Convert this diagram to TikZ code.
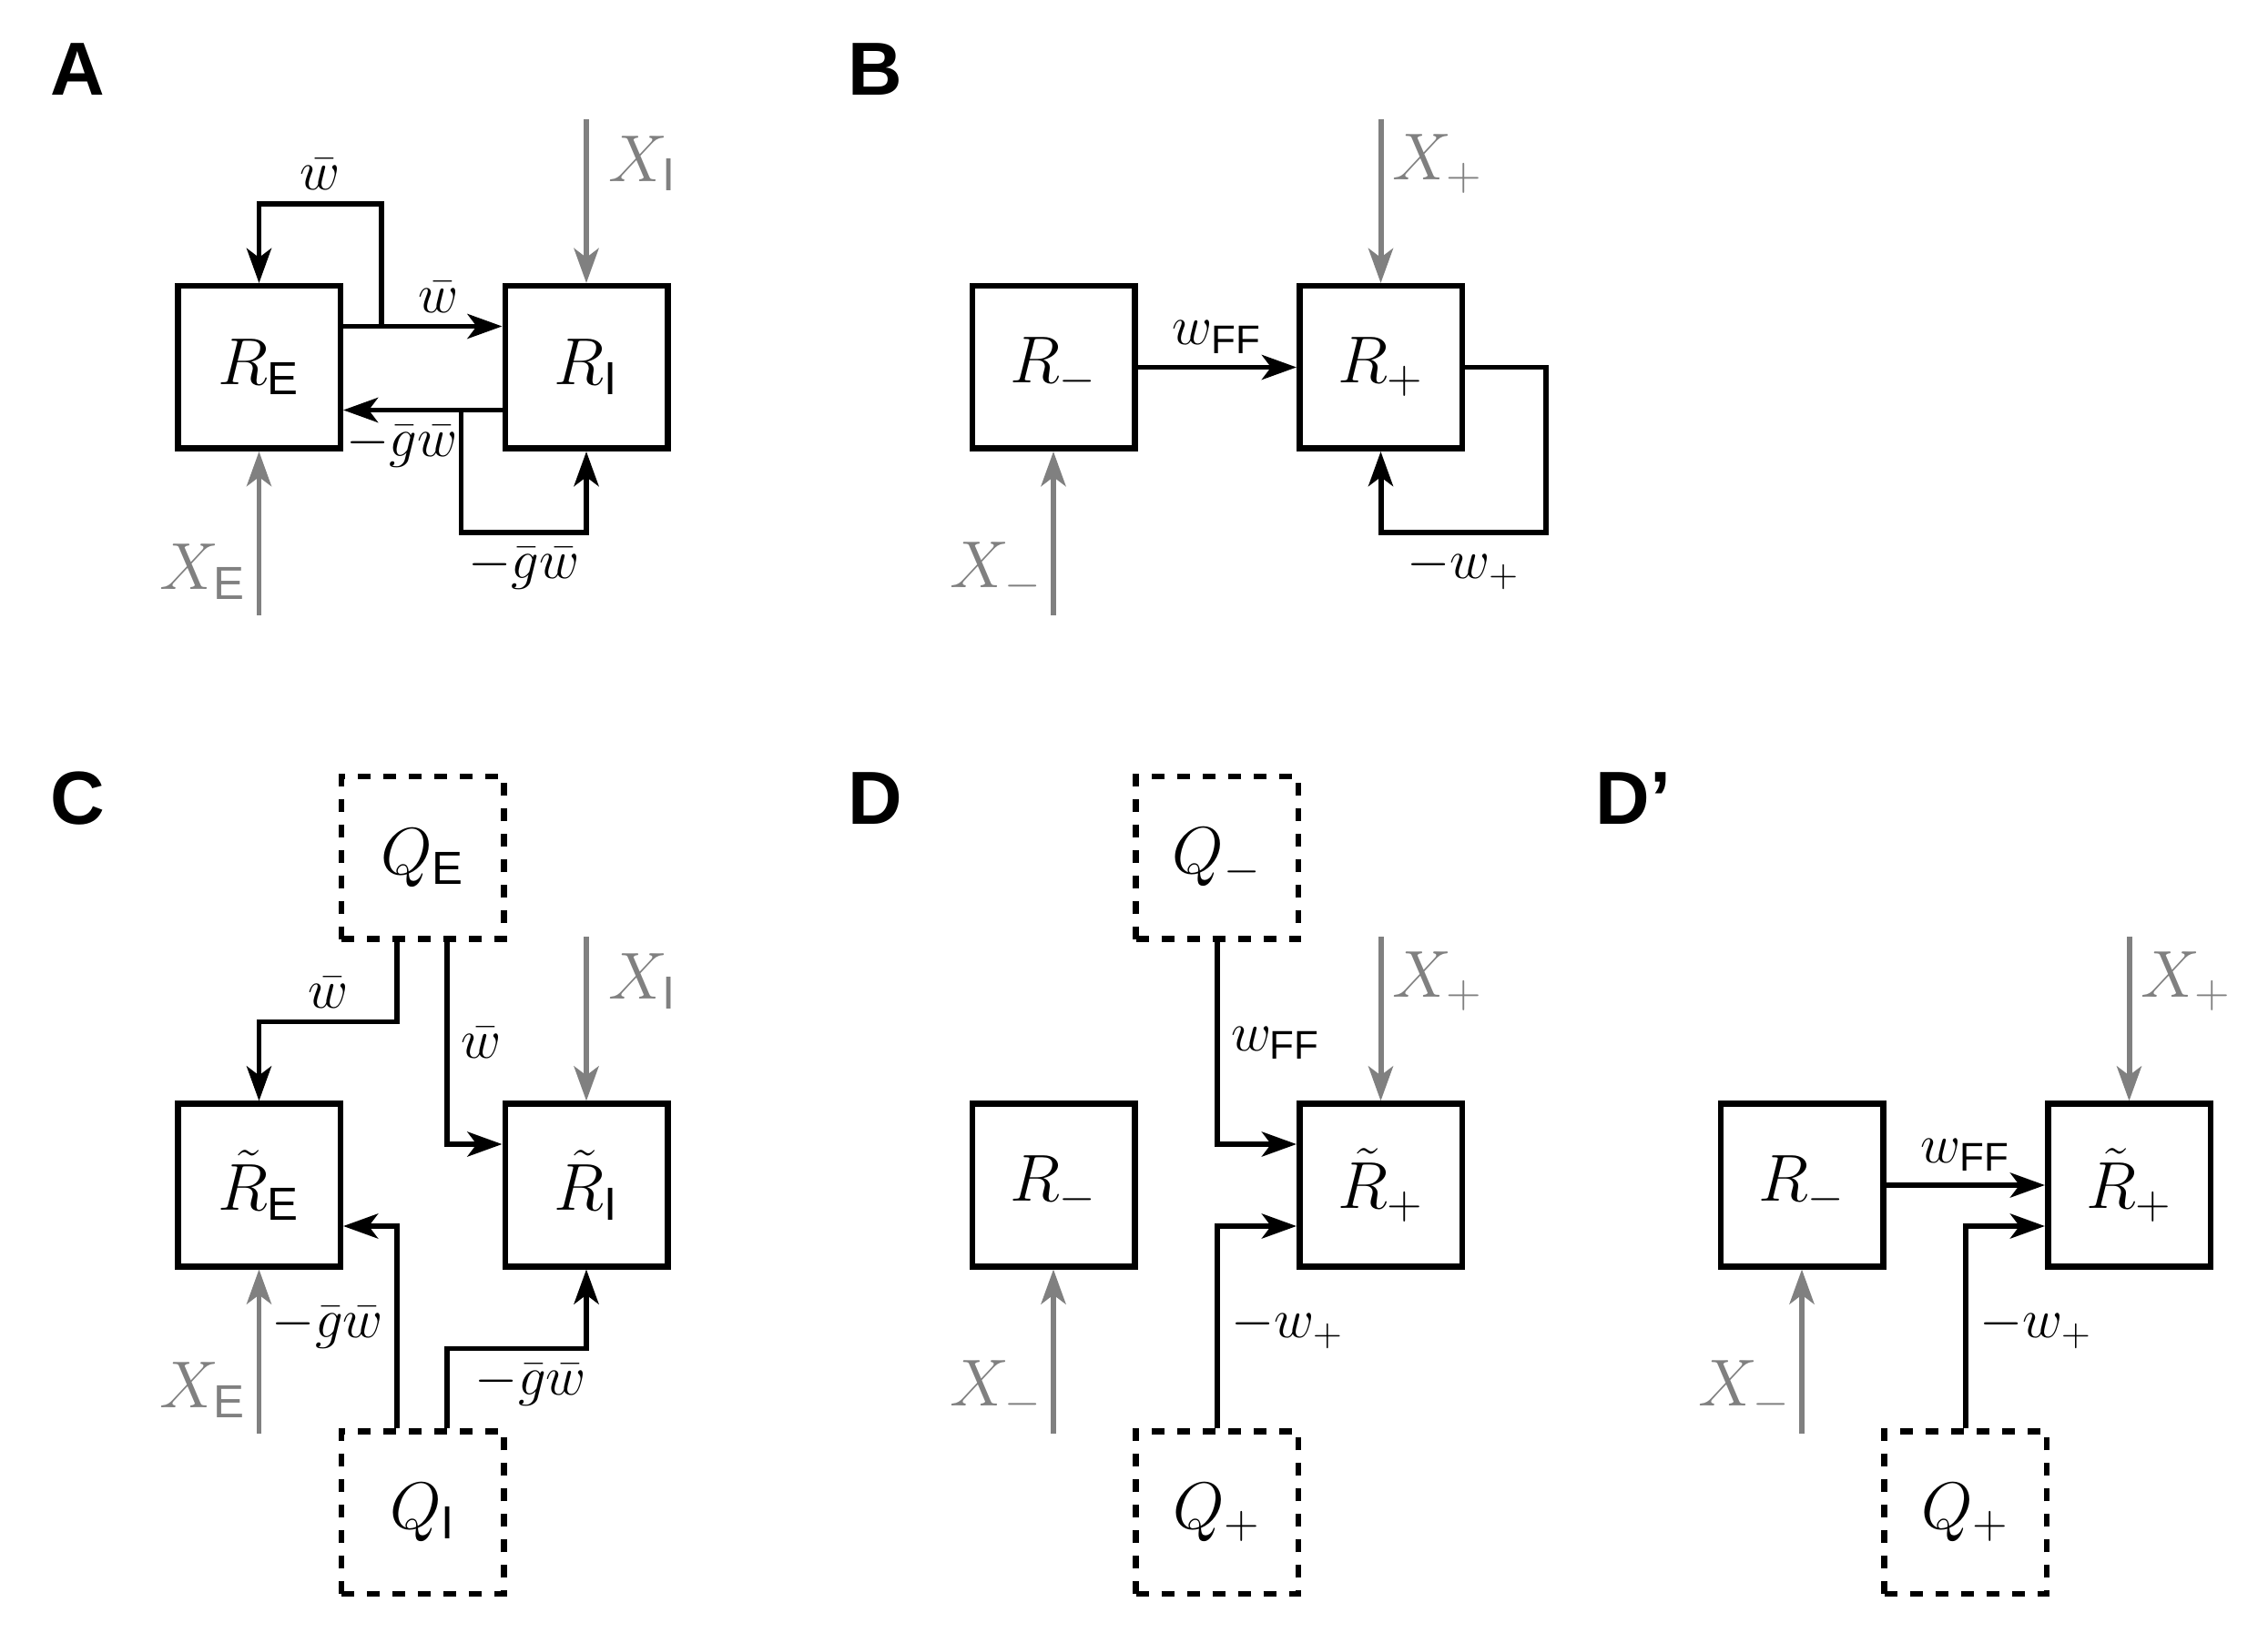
\documentclass[tikz,border=0pt]{standalone}
\usepackage{amsmath}
\usepackage{fontspec}
\setsansfont{Liberation Sans}
\usetikzlibrary{arrows.meta, positioning, calc}
\DeclareMathSizes{19.5}{19.5}{14.5}{11}
\DeclareMathSizes{17}{17}{12.5}{9}

\begin{document}
\begin{tikzpicture}[x=1mm, y=1mm, node distance=17.45mm,
  >={Stealth[length=3.8mm, width=2.7mm, inset=1mm]},
  every node/.style={font=\fontsize{19.5}{23}\selectfont},
  box/.style={draw, rectangle, line width=1.85pt, minimum size=17.85mm, inner sep=0pt},
  qbox/.style={box, dash pattern=on 1.4mm off 1.4mm},
  conn/.style={->, line width=1.7pt},
  ext/.style={->, line width=1.7pt, draw=gray},
  elab/.style={font=\fontsize{17}{20}\selectfont, inner sep=3.5pt},
  xlab/.style={text=gray, inner sep=0pt},
  panel/.style={font=\sffamily\bfseries\fontsize{23.5}{28}\selectfont, inner sep=0pt, anchor=west}]
  \useasboundingbox (0,0) rectangle (249.1,-179.4);

  % A
  \node[panel] (labA) at (5.5,-7.6) {A};
  \node[box] (re) at (28.45,-40.35) {$R_{\mathsf{E}}$};
  \node[box, right=of re] (ri) {$R_{\mathsf{I}}$};
  \coordinate (xi_a) at ([yshift=18mm]ri.north);
  \coordinate (xe_a) at ([yshift=-18mm]re.south);

  \draw[conn] ([yshift=4.5mm]re.east) -- node[elab, above, pos=.6] (wa1) {$\bar{w}$} ([yshift=4.5mm]ri.west);
  \draw[conn] ([xshift=4.2mm, yshift=4.5mm]re.east) |- node[elab, above, pos=.75] (wa2) {$\bar{w}$} ([yshift=8.7mm]re.north) -- (re.north);
  \draw[conn] ([yshift=-4.7mm]ri.west) -- node[elab, below, pos=.63] (ga1) {$-\bar{g}\bar{w}$} ([yshift=-4.7mm]re.east);
  \draw[conn] ([xshift=-4.5mm, yshift=-4.7mm]ri.west) |- node[elab, below, pos=.75] (ga2) {$-\bar{g}\bar{w}$} ([yshift=-8.9mm]ri.south) -- (ri.south);
  \draw[ext] (xi_a) -- node[xlab, xshift=6.2mm, pos=.27] (lxia) {$X_{\mathsf{I}}$} (ri.north);
  \draw[ext] (xe_a) -- node[xlab, xshift=-6.2mm, pos=.265] (lxea) {$X_{\mathsf{E}}$} (re.south);

  % B
  \node[panel] (labB) at (93.1,-7.6) {B};
  \node[box] (rm) at (115.7,-40.35) {$R_{-}$};
  \node[box, right=of rm] (rp) {$R_{+}$};
  \coordinate (xp_b) at ([yshift=18mm]rp.north);
  \coordinate (xm_b) at ([yshift=-18mm]rm.south);

  \draw[conn] (rm.east) -- node[elab, above] (wffb) {$w_{\mathsf{FF}}$} (rp.west);
  \draw[conn] (rp.east) -| ([xshift=8.9mm, yshift=-8.9mm]rp.south east) -| node[elab, below, pos=.25] (wpb) {$-w_{+}$} (rp.south);
  \draw[ext] (xp_b) -- node[xlab, xshift=6.3mm, pos=.27] (lxpb) {$X_{+}$} (rp.north);
  \draw[ext] (xm_b) -- node[xlab, xshift=-6.3mm, pos=.265] (lxmb) {$X_{-}$} (rm.south);

  % C
  \node[panel] (labC) at (5.5,-87.7) {C};
  \node[box] (ret) at (28.45,-130.2) {$\tilde{R}_{\mathsf{E}}$};
  \node[box, right=of ret] (rti) {$\tilde{R}_{\mathsf{I}}$};
  \coordinate (topc) at ($(ret.north)!.5!(rti.north)$);
  \coordinate (botc) at ($(ret.south)!.5!(rti.south)$);
  \node[qbox, above=of topc] (qe) {$Q_{\mathsf{E}}$};
  \node[qbox, below=of botc] (qi) {$Q_{\mathsf{I}}$};
  \coordinate (xi_c) at ([yshift=18mm]rti.north);
  \coordinate (xe_c) at ([yshift=-18mm]ret.south);

  \draw[conn] ([xshift=-2.8mm]qe.south) |- node[elab, above, pos=.75] (wc1) {$\bar{w}$} ([yshift=8.7mm]ret.north) -- (ret.north);
  \draw[conn] ([xshift=2.7mm]qe.south) |- node[elab, right, pos=.25] (wc2) {$\bar{w}$} ([yshift=4.5mm]rti.west);
  \draw[conn] ([xshift=-2.8mm]qi.north) |- node[elab, left, pos=.25] (gc1) {$-\bar{g}\bar{w}$} ([yshift=-4.5mm]ret.east);
  \draw[conn] ([xshift=2.7mm]qi.north) |- node[elab, below, pos=.8] (gc2) {$-\bar{g}\bar{w}$} ([yshift=-8.7mm]rti.south) -- (rti.south);
  \draw[ext] (xi_c) -- node[xlab, xshift=6.2mm, pos=.27] (lxic) {$X_{\mathsf{I}}$} (rti.north);
  \draw[ext] (xe_c) -- node[xlab, xshift=-6.2mm, pos=.265] (lxec) {$X_{\mathsf{E}}$} (ret.south);

  % D
  \node[panel] (labD) at (93.1,-87.7) {D};
  \node[box] (rmd) at (115.7,-130.2) {$R_{-}$};
  \node[box, right=of rmd] (rptd) {$\tilde{R}_{+}$};
  \coordinate (topd) at ($(rmd.north)!.5!(rptd.north)$);
  \coordinate (botd) at ($(rmd.south)!.5!(rptd.south)$);
  \node[qbox, above=of topd] (qmd) {$Q_{-}$};
  \node[qbox, below=of botd] (qpd) {$Q_{+}$};
  \coordinate (xp_d) at ([yshift=18mm]rptd.north);
  \coordinate (xm_d) at ([yshift=-18mm]rmd.south);

  \draw[conn] (qmd.south) |- node[elab, right, pos=.25] (wffd) {$w_{\mathsf{FF}}$} ([yshift=4.5mm]rptd.west);
  \draw[conn] (qpd.north) |- node[elab, right, pos=.25] (wpd) {$-w_{+}$} ([yshift=-4.5mm]rptd.west);
  \draw[ext] (xp_d) -- node[xlab, xshift=6.3mm, pos=.27] (lxpd) {$X_{+}$} (rptd.north);
  \draw[ext] (xm_d) -- node[xlab, xshift=-6.3mm, pos=.265] (lxmd) {$X_{-}$} (rmd.south);

  % D'
  \node[panel] (labDp) at (175.2,-87.7) {D’};
  \node[box] (rmdp) at (197.9,-130.2) {$R_{-}$};
  \node[box, right=of rmdp] (rptdp) {$\tilde{R}_{+}$};
  \coordinate (botdp) at ($(rmdp.south)!.5!(rptdp.south)$);
  \node[qbox, below=of botdp] (qpdp) {$Q_{+}$};
  \coordinate (xp_dp) at ([yshift=18mm]rptdp.north);
  \coordinate (xm_dp) at ([yshift=-18mm]rmdp.south);

  \draw[conn] (rmdp.east) -- node[elab, above] (wffdp) {$w_{\mathsf{FF}}$} (rptdp.west);
  \draw[conn] (qpdp.north) |- node[elab, right, pos=.25] (wpdp) {$-w_{+}$} ([yshift=-4.5mm]rptdp.west);
  \draw[ext] (xp_dp) -- node[xlab, xshift=6.3mm, pos=.27] (lxpdp) {$X_{+}$} (rptdp.north);
  \draw[ext] (xm_dp) -- node[xlab, xshift=-6.3mm, pos=.265] (lxmdp) {$X_{-}$} (rmdp.south);
\end{tikzpicture}
\end{document}
